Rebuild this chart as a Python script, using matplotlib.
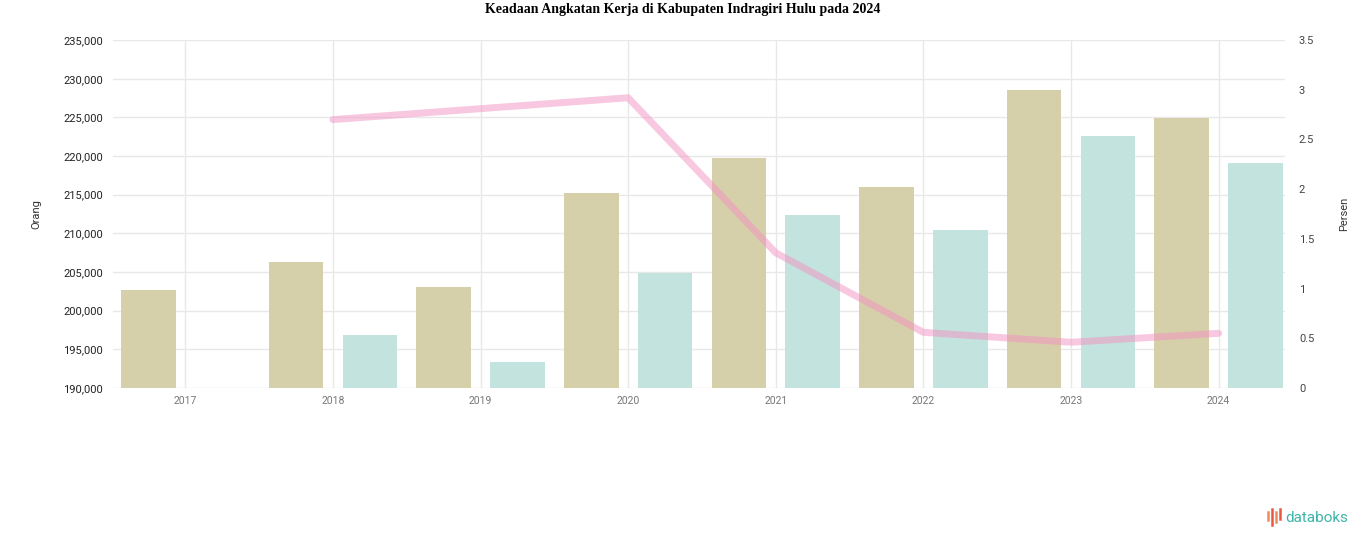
import numpy as np
import matplotlib
matplotlib.use("Agg")
import matplotlib.pyplot as plt
from matplotlib.lines import Line2D

# Data
years = ["2017", "2018", "2019", "2020", "2021", "2022", "2023", "2024"]
seri_1 = [202700, 206300, 203100, 215200, 219700, 216000, 228500, 224900]
seri_2 = [np.nan, 196850, 193350, 204900, 212400, 210400, 222600, 219100]
persen = [np.nan, 2.70, 2.81, 2.92, 1.36, 0.56, 0.46, 0.55]

left_ticks = list(range(190000, 235001, 5000))
right_ticks = [0, 0.5, 1, 1.5, 2, 2.5, 3, 3.5]

plt.rcParams["font.family"] = ["Roboto", "DejaVu Sans"]

fig = plt.figure(figsize=(13.66, 5.47), dpi=100)
ax = fig.add_axes([0.0827, 0.2907, 0.858, 0.636])
ax2 = ax.twinx()

x = np.arange(len(years))
off = 0.25
w = 0.37
ax.bar(x - off, seri_1, width=w, color="#d6d0aa", zorder=2)
ax.bar(x + off, seri_2, width=w, color="#c3e4de", zorder=2)

ax.set_ylim(left_ticks[0], left_ticks[-1])
ax.set_yticks(left_ticks)
ax.set_yticklabels([f"{v:,}" for v in left_ticks])
ax.set_xlim(-0.49, 7.45)
ax.set_xticks(x)
ax.set_xticklabels(years)
ax.grid(True, color="#e8e8e8", linewidth=1, zorder=0)
ax.set_axisbelow(True)
for s in ax.spines.values():
    s.set_visible(False)
ax.tick_params(axis="y", length=0, labelsize=8, labelcolor="#222222", pad=7)
ax.tick_params(axis="x", length=0, labelsize=7.5, labelcolor="#777777", pad=6)
ax.set_ylabel("Orang", fontsize=8, color="#333333", labelpad=16)

ax2.plot(x, persen, color="#f391c3", alpha=0.5, linewidth=5,
         solid_joinstyle="round", solid_capstyle="round", zorder=3)
ax2.set_ylim(0, 3.5)
ax2.set_yticks(right_ticks)
ax2.set_yticklabels([f"{v:g}" for v in right_ticks])
for s in ax2.spines.values():
    s.set_visible(False)
ax2.tick_params(axis="y", length=0, labelsize=8, labelcolor="#444444", pad=10)
ax2.set_ylabel("Persen", fontsize=8, color="#333333", labelpad=18)

fig.text(0.5, 0.982, "Keadaan Angkatan Kerja di Kabupaten Indragiri Hulu pada 2024",
         ha="center", va="center", fontsize=10, fontweight="bold",
         family="Liberation Serif")

# databoks logo
icon_x = [1268, 1272, 1276, 1280]
icon_h = [(512, 520), (509, 525), (512, 522), (509, 519)]
icon_c = ["#f08a5d", "#e9573f", "#f08a5d", "#e9573f"]
for ix, (y0, y1), c in zip(icon_x, icon_h, icon_c):
    fig.add_artist(Line2D([ix / 1366, ix / 1366], [1 - y0 / 547, 1 - y1 / 547],
                          color=c, linewidth=1.8, transform=fig.transFigure))
fig.text(1285 / 1366, 1 - 518 / 547, "databoks", ha="left", va="center",
         fontsize=11, color="#3fb5a8", family="Roboto")

fig.savefig("out.png", dpi=100)
